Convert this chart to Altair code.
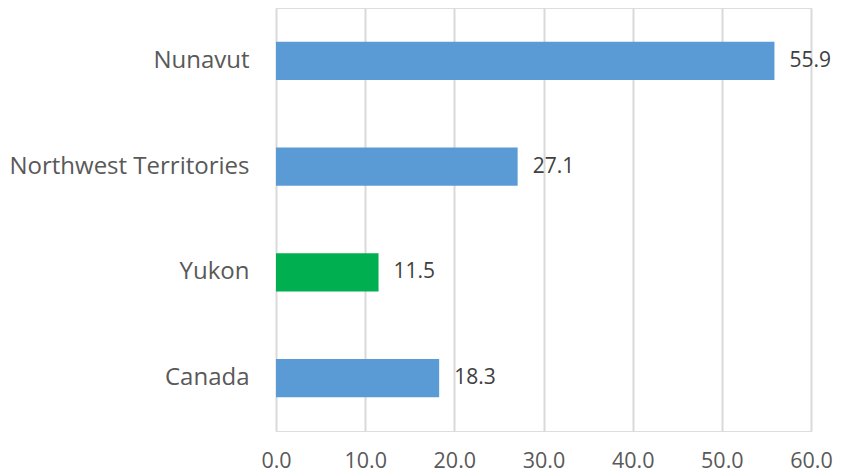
import altair as alt
import pandas as pd

regions = ["Nunavut", "Northwest Territories", "Yukon", "Canada"]
values = [55.9, 27.1, 11.5, 18.3]
colors = ["#5B9BD5", "#5B9BD5", "#00B050", "#5B9BD5"]
x_ticks = [0, 10, 20, 30, 40, 50, 60]

df = pd.DataFrame({"region": regions, "value": values, "color": colors})

FONT = "Open Sans"

y_enc = alt.Y("region:N", sort=regions,
              scale=alt.Scale(paddingInner=0.64, paddingOuter=0.32),
              axis=alt.Axis(title=None, ticks=False, domain=False, grid=False,
                            labelFont=FONT, labelFontSize=24, labelColor="#595959",
                            labelPadding=27, labelLimit=400))
x_enc = alt.X("value:Q", scale=alt.Scale(domain=[0, 60], nice=False),
              axis=alt.Axis(title=None, values=x_ticks, format=".1f", ticks=False,
                            domain=False, grid=True, gridColor="#D9D9D9", gridWidth=2,
                            labelFont=FONT, labelFontSize=21.5, labelColor="#595959",
                            labelPadding=19, labelFlush=False))

bars = alt.Chart(df).mark_bar().encode(
    x=x_enc, y=y_enc,
    color=alt.Color("color:N", scale=None),
)

labels = alt.Chart(df).mark_text(align="left", baseline="middle", dx=15,
                                 font=FONT, fontSize=21, color="#404040").encode(
    x="value:Q", y=alt.Y("region:N", sort=regions),
    text=alt.Text("value:Q", format=".1f"),
)

chart = (bars + labels).properties(
    width=535, height=423,
    autosize=alt.AutoSizeParams(type="none"),
    padding={"left": 268, "top": 0, "right": 23, "bottom": 43},
).configure_view(stroke=None).configure(background="white")

chart.save("out.html", embed_options={"renderer": "svg", "actions": False})
